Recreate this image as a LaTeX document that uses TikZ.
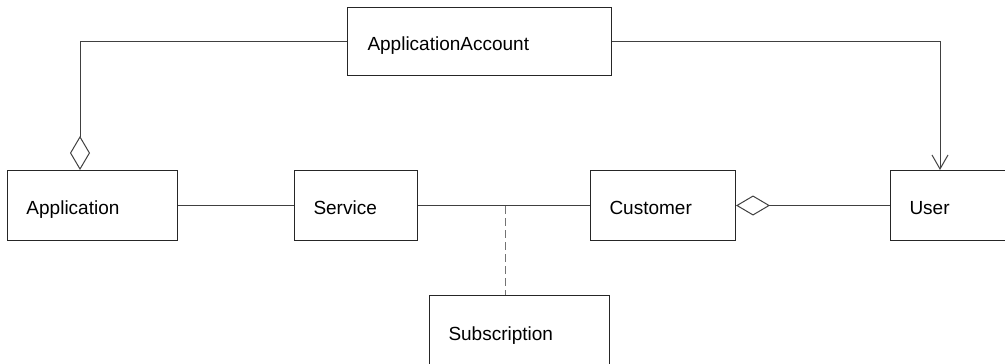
\documentclass[tikz,border=0pt]{standalone}
\usepackage{fontspec}
\setmainfont{Liberation Sans}
\usetikzlibrary{arrows.meta,calc}
\begin{document}
\begin{tikzpicture}[x=1pt,y=1pt,
  cls/.style={draw=black!85, line width=1pt, anchor=north west, align=left,
    inner xsep=19pt, inner ysep=0pt, text height=18pt, text depth=0pt,
    font=\fontsize{19}{22}\selectfont},
  conn/.style={draw=black!75, line width=1pt},
  agg/.style={conn, -{Diamond[open, length=34pt, width=20pt, line width=1pt]}},
  nav/.style={conn, -{Straight Barb[length=14pt, width=16pt, line width=1pt]}},
  assocclass/.style={draw=black!55, line width=1pt, dash pattern=on 8pt off 4pt}]
  \useasboundingbox (0,0) rectangle (1005,-364);

  % classes
  \node[cls, inner xsep=20pt, text width=224pt, minimum height=68pt] (acct) at (347,-7) {ApplicationAccount};
  \node[cls, text width=132pt, minimum height=70pt] (app)  at (7,-170)  {Application};
  \node[cls, text width=85pt,  minimum height=70pt] (svc)  at (294,-170) {Service};
  \node[cls, text width=107pt, minimum height=70pt] (cust) at (590,-170) {Customer};
  \node[cls, text width=82pt,  minimum height=70pt] (user) at (890,-170) {User};
  \node[cls, text width=142pt, minimum height=71pt] (sub)  at (429,-295) {Subscription};

  % associations
  \draw[conn] (app.east) -- (svc.west);
  \draw[conn] (svc.east) -- (cust.west);
  \coordinate (mid) at (505,-206);
  \draw[assocclass] (mid) -- (mid |- sub.north);
  \draw[agg] (user.west) -- (cust.east);
  \draw[agg] (acct.west) -| ($(app.north west)+(73,0)$);
  \draw[nav] (acct.east) -| ($(user.north west)+(50,0)$);
\end{tikzpicture}
\end{document}
